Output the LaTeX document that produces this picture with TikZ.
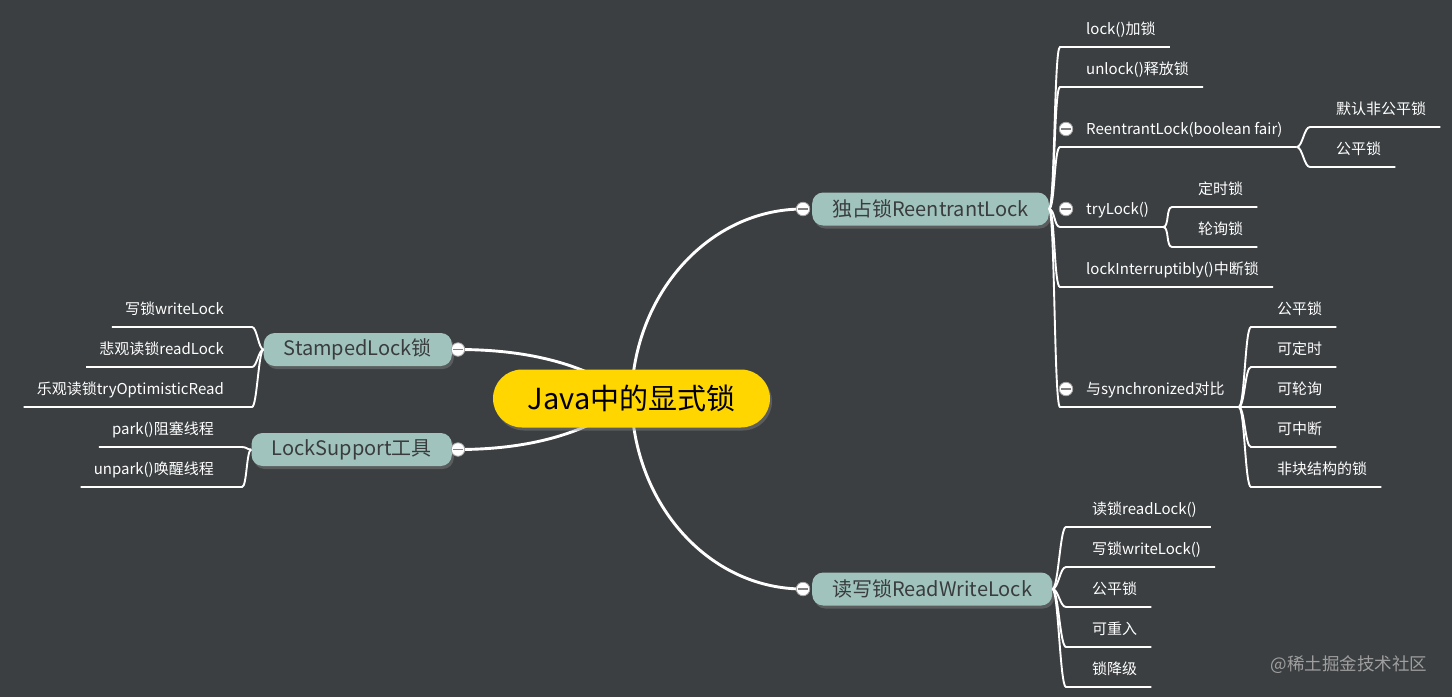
\documentclass[tikz,border=0pt]{standalone}
\usepackage{fontspec}
\setmainfont{Noto Sans CJK SC}
\usepackage{tikz}
\usetikzlibrary{positioning, calc}
\usetikzlibrary{shadows,backgrounds}
\definecolor{canvas}{RGB}{59,63,65}
\definecolor{sage}{RGB}{160,196,189}
\definecolor{ink}{RGB}{58,60,62}
\definecolor{gold}{RGB}{255,214,0}
\newcommand{\rleaf}[5] {
    \node[leaf, anchor=south west] (#1) at (#2,#3) {#4};
    \draw[twig] (#5) .. controls +(6,0) and +(-6,0) .. ([xshift=-26pt]#1.south west) -- ([xshift=14pt]#1.south east) coordinate (#1-end);
}
\newcommand{\lleaf}[5] {
    \node[leaf, anchor=south east] (#1) at (#2,#3) {#4};
    \draw[twig] (#5) .. controls +(-5,0) and +(5,0) .. ([xshift=28pt]#1.south east) -- ([xshift=-13pt]#1.south west);
}
\begin{document}
\begin{tikzpicture}[x=1pt, y=-1pt,
    leaf/.style={text=white, font=\fontsize{15}{15}\selectfont, inner sep=0pt, text height=11pt, text depth=12pt},
    twig/.style={white, line width=1.9pt},
    limb/.style={white, line width=2.9pt},
    branch/.style={rectangle, rounded corners=11pt, fill=sage, text=ink, font=\fontsize{20}{20}\selectfont, minimum height=33pt, inner xsep=20pt, drop shadow={shadow xshift=2pt, shadow yshift=-3pt, opacity=0.45}},
    root/.style={rectangle, rounded corners=29pt, fill=gold, text=black, font=\fontsize{29}{29}\selectfont, minimum width=277pt, minimum height=58pt, drop shadow={shadow xshift=2pt, shadow yshift=-3pt, opacity=0.45}},
    fold/.style={circle, draw=gray!70, line width=0.8pt, fill=white, minimum size=13.5pt, inner sep=0pt, path picture={\draw[line width=1.6pt, gray] ([xshift=-5pt]path picture bounding box.center) -- ([xshift=5pt]path picture bounding box.center);}}]
    \useasboundingbox (0,0) rectangle (1452,697);
    \begin{scope}[on background layer]
        \fill[canvas] (0,0) rectangle (1452,697);
    \end{scope}
    \node[root] (java) at (631.5,398.5) {Java中的显式锁};
    \node[branch, anchor=west] (b1) at (812,209) {独占锁ReentrantLock};
    \node[branch, anchor=west] (b2) at (812,589) {读写锁ReadWriteLock};
    \node[branch, anchor=east] (b3) at (452,349.5) {StampedLock锁};
    \node[branch, anchor=east] (b4) at (452,449.5) {LockSupport工具};

    \rleaf{lk}{1086}{47}{lock()加锁}{b1.east}
    \rleaf{ulk}{1086}{87}{unlock()释放锁}{b1.east}
    \rleaf{rlb}{1086}{147}{ReentrantLock(boolean fair)}{b1.east}
    \rleaf{tl}{1086}{227}{tryLock()}{b1.east}
    \rleaf{li}{1086}{287}{lockInterruptibly()中断锁}{b1.east}
    \rleaf{sy}{1086}{407}{与synchronized对比}{b1.east}
    \rleaf{nf}{1336}{127}{默认非公平锁}{rlb-end}
    \rleaf{fr}{1336}{167}{公平锁}{rlb-end}
    \rleaf{tm}{1198}{207}{定时锁}{tl-end}
    \rleaf{pl}{1198}{247}{轮询锁}{tl-end}
    \rleaf{sa}{1277}{327}{公平锁}{sy-end}
    \rleaf{sb}{1277}{367}{可定时}{sy-end}
    \rleaf{sc}{1277}{407}{可轮询}{sy-end}
    \rleaf{sd}{1277}{447}{可中断}{sy-end}
    \rleaf{se}{1277}{487}{非块结构的锁}{sy-end}

    \rleaf{rd}{1092}{527}{读锁readLock()}{b2.east}
    \rleaf{wr}{1092}{567}{写锁writeLock()}{b2.east}
    \rleaf{fa}{1092}{607}{公平锁}{b2.east}
    \rleaf{re}{1092}{647}{可重入}{b2.east}
    \rleaf{dg}{1092}{687}{锁降级}{b2.east}

    \lleaf{wl}{224}{327}{写锁writeLock}{b3.west}
    \lleaf{pr}{224}{367}{悲观读锁readLock}{b3.west}
    \lleaf{op}{224}{407}{乐观读锁tryOptimisticRead}{b3.west}
    \lleaf{pk}{214}{447}{park()阻塞线程}{b4.west}
    \lleaf{up}{214}{487}{unpark()唤醒线程}{b4.west}

    \node[fold] (f1) at ([xshift=-9pt]b1.west) {};
    \node[fold] (f2) at ([xshift=-9pt]b2.west) {};
    \node[fold] (f3) at ([xshift=6pt]b3.east) {};
    \node[fold] (f4) at ([xshift=6pt]b4.east) {};
    \node[fold] (frlb) at ([shift={(-20pt,18pt)}]rlb.south west) {};
    \node[fold] (ftl) at ([shift={(-20pt,18pt)}]tl.south west) {};
    \node[fold] (fsy) at ([shift={(-20pt,18pt)}]sy.south west) {};

    \begin{scope}[on background layer]
        \draw[limb] (java.center) .. controls (633,294) and (709,209) .. (f1.center);
        \draw[limb] (java.center) .. controls (633,504) and (709,589) .. (f2.center);
        \draw[limb] (java.center) .. controls (590,365) and (530,349.5) .. (f3.center);
        \draw[limb] (java.center) .. controls (590,433) and (530,449.5) .. (f4.center);
    \end{scope}

    \node[text=gray!75, font=\fontsize{17.5}{17.5}\selectfont, anchor=east] (wm) at (1431,665) {@稀土掘金技术社区};
\end{tikzpicture}
\end{document}
